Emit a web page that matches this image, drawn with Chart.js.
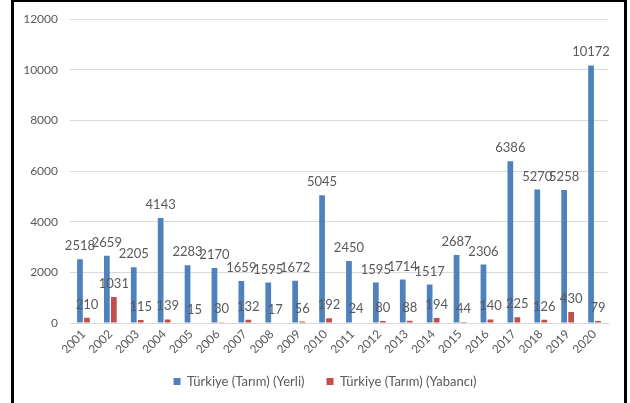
<!DOCTYPE html>
<html>
<head>
<meta charset="utf-8">
<script src="https://cdn.jsdelivr.net/npm/chart.js@4/dist/chart.umd.min.js"></script>
<style>
  html, body { margin: 0; padding: 0; background: #fff; }
  #wrap { position: relative; width: 630px; height: 403px; overflow: hidden; }
  #frame {
    position: absolute; left: 11px; top: 0; width: 616px; height: 420px;
    box-sizing: border-box; border: 3px solid #000; border-top-width: 2px; border-bottom: none;
  }
  #chart { position: absolute; left: 0; top: 0; }
</style>
</head>
<body>
<div id="wrap">
  <div id="frame"></div>
  <canvas id="chart" width="630" height="403"></canvas>
</div>
<script>
document.addEventListener('DOMContentLoaded', () => {
    const years = ['2001', '2002', '2003', '2004', '2005', '2006', '2007', '2008', '2009', '2010',
                   '2011', '2012', '2013', '2014', '2015', '2016', '2017', '2018', '2019', '2020'];
    const yerli = [2518, 2659, 2205, 4143, 2283, 2170, 1659, 1595, 1672, 5045,
                   2450, 1595, 1714, 1517, 2687, 2306, 6386, 5270, 5258, 10172];
    const yabanci = [210, 1031, 115, 139, 15, 30, 132, 17, 56, 192,
                     24, 80, 88, 194, 44, 140, 225, 126, 430, 79];
    const seriesNames = ['Türkiye (Tarım) (Yerli)', 'Türkiye (Tarım) (Yabancı)'];

    const textColor = '#595959';
    const fontFamily = 'Lato, "Open Sans", sans-serif';

    // values written above each bar
    const barLabels = {
        id: 'barLabels',
        afterDatasetsDraw(chart) {
            const ctx = chart.ctx;
            ctx.save();
            ctx.fillStyle = textColor;
            ctx.font = '13px ' + fontFamily;
            ctx.textAlign = 'center';
            ctx.textBaseline = 'alphabetic';
            chart.data.datasets.forEach((ds, i) => {
                chart.getDatasetMeta(i).data.forEach((bar, j) => {
                    ctx.fillText(String(ds.data[j]), bar.x, bar.y - 9);
                });
            });
            ctx.restore();
        }
    };

    // legend sits a bit right of the canvas centre in the original
    const legendShift = {
        id: 'legendShift',
        afterLayout(chart) {
            if (chart.legend) {
                chart.legend.left += 21;
                chart.legend.right += 21;
            }
        }
    };

    const ctx = document.getElementById('chart').getContext('2d');
    new Chart(ctx, {
        type: 'bar',
        data: {
            labels: years,
            datasets: [
                { label: seriesNames[0], data: yerli, backgroundColor: '#4F81BD',
                  categoryPercentage: 0.52, barPercentage: 0.82 },
                { label: seriesNames[1], data: yabanci, backgroundColor: '#C0504D',
                  categoryPercentage: 0.52, barPercentage: 0.82 }
            ]
        },
        options: {
            responsive: false,
            animation: false,
            layout: { padding: { left: 0, right: 22, top: 19, bottom: 5 } },
            plugins: {
                tooltip: { enabled: false },
                legend: {
                    position: 'bottom',
                    labels: {
                        color: textColor,
                        font: { family: fontFamily, size: 13 },
                        boxWidth: 7, boxHeight: 7,
                        padding: 22
                    }
                }
            },
            scales: {
                x: {
                    grid: { display: false, drawTicks: false },
                    border: { color: '#d9d9d9' },
                    ticks: {
                        color: textColor, font: { family: fontFamily, size: 12 },
                        maxRotation: 45, minRotation: 45, padding: 4, autoSkip: false
                    },
                    afterFit: s => { s.height = 30; }
                },
                y: {
                    min: 0, max: 12000,
                    grid: { color: '#d9d9d9', drawTicks: false },
                    border: { display: false },
                    ticks: {
                        stepSize: 2000, color: textColor,
                        font: { family: fontFamily, size: 12 }, padding: 12,
                        callback: v => String(v)
                    },
                    afterFit: s => { s.width = 70; }
                }
            }
        },
        plugins: [barLabels, legendShift]
    });
});
</script>
</body>
</html>
